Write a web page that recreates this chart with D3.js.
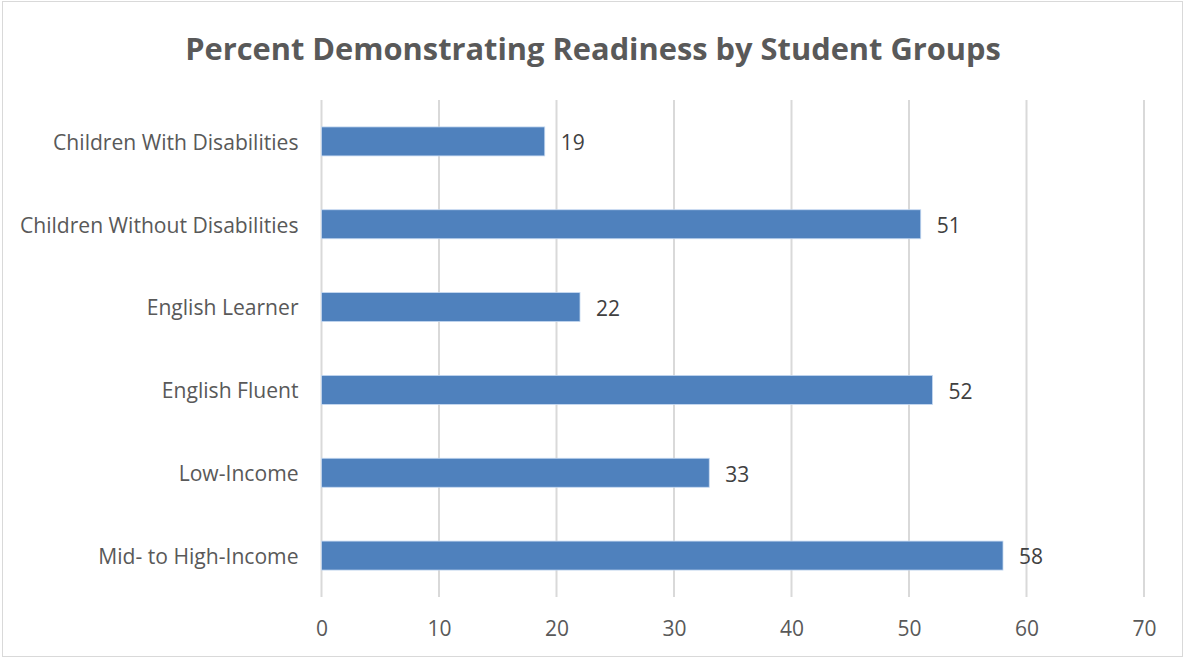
<!DOCTYPE html>
<html>
<head>
<meta charset="utf-8">
<script src="https://cdn.jsdelivr.net/npm/d3@7"></script>
<style>
  html, body { margin: 0; padding: 0; background: #fff; }
  svg { display: block; }
  text { font-family: "Open Sans", "Noto Sans", sans-serif; }
</style>
</head>
<body>
<svg id="chart" width="1185" height="659"></svg>
<script>
const categories = [
  "Children With Disabilities",
  "Children Without Disabilities",
  "English Learner",
  "English Fluent",
  "Low-Income",
  "Mid- to High-Income"
];
const values = [19, 51, 22, 52, 33, 58];
const xTicks = [0, 10, 20, 30, 40, 50, 60, 70];
const title = "Percent Demonstrating Readiness by Student Groups";

const svg = d3.select("#chart");
const W = 1185, H = 659;
const margin = { left: 321.5, right: W - 1144, top: 100, bottom: H - 597 };
const FONT = '"Open Sans", "Noto Sans", sans-serif';

svg.append("rect")
  .attr("x", 2.5).attr("y", 1.5)
  .attr("width", W - 5).attr("height", H - 4)
  .attr("fill", "#fff").attr("stroke", "#d9d9d9").attr("stroke-width", 1);

svg.append("text")
  .attr("x", 593).attr("y", 60)
  .attr("text-anchor", "middle")
  .attr("font-size", 30.8).attr("font-weight", "bold")
  .attr("fill", "#595959")
  .text(title);

const x = d3.scaleLinear().domain([0, 70]).range([margin.left, W - margin.right]);
const y = d3.scaleBand().domain(categories)
  .range([margin.top, H - margin.bottom])
  .paddingInner(0.65).paddingOuter(0.325);

// gridlines
svg.append("g").selectAll("line").data(xTicks).join("line")
  .attr("x1", d => x(d)).attr("x2", d => x(d))
  .attr("y1", margin.top).attr("y2", H - margin.bottom)
  .attr("stroke", "#d9d9d9").attr("stroke-width", 2);

// x axis labels
const xAxis = d3.axisBottom(x).tickValues(xTicks).tickSize(0).tickPadding(0);
const gx = svg.append("g").attr("transform", `translate(0, ${H - margin.bottom + 24})`).call(xAxis);
gx.select(".domain").remove();
gx.selectAll("text").attr("font-size", 21).attr("fill", "#595959").attr("font-family", FONT);

// y axis labels
const yAxis = d3.axisLeft(y).tickSize(0).tickPadding(23);
const gy = svg.append("g").attr("transform", `translate(${margin.left}, 1.5)`).call(yAxis);
gy.select(".domain").remove();
gy.selectAll("text").attr("font-size", 21.1).attr("fill", "#595959").attr("font-family", FONT);

// bars
svg.append("g").selectAll("rect").data(values).join("rect")
  .attr("x", x(0))
  .attr("y", (d, i) => y(categories[i]))
  .attr("width", d => x(d) - x(0))
  .attr("height", y.bandwidth())
  .attr("fill", "#4f81bd")
  .attr("stroke", "#c6d9f1").attr("stroke-width", 0.8);

// data labels
svg.append("g").selectAll("text").data(values).join("text")
  .attr("x", d => x(d) + 16)
  .attr("y", (d, i) => y(categories[i]) + y.bandwidth() / 2 + 1.5)
  .attr("dy", "0.35em")
  .attr("font-size", 21).attr("fill", "#404040").attr("font-family", FONT)
  .text(d => d);
</script>
</body>
</html>
